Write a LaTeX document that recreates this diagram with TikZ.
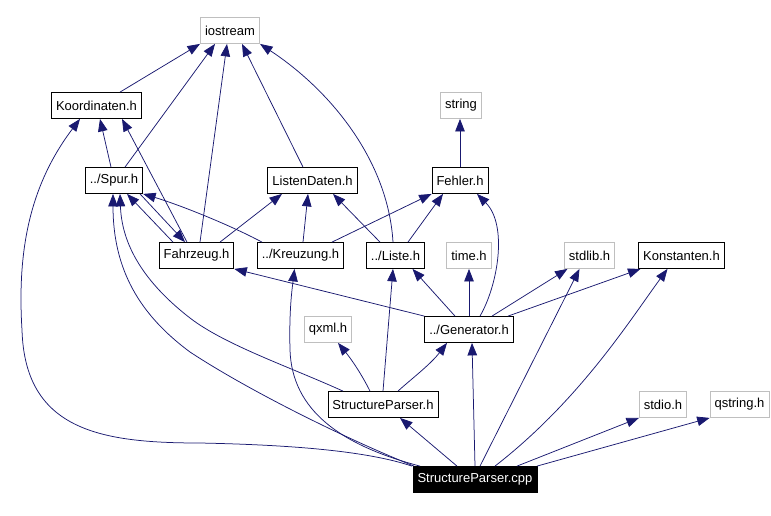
\documentclass[tikz,border=0pt]{standalone}
\usepackage{fontspec}
\setmainfont{Liberation Sans}
\usetikzlibrary{arrows.meta}
\definecolor{edgeblue}{HTML}{191970}
\definecolor{extgray}{HTML}{BFBFBF}

\begin{document}
\begin{tikzpicture}[x=1pt,y=-1pt,
        file/.style={draw=black,line width=0.8pt,inner xsep=4.5pt,inner ysep=0pt,minimum height=26pt,font=\fontsize{13}{15}\selectfont},
        sysfile/.style={file,draw=extgray},
        mainfile/.style={file,fill=black,text=white},
        dep/.style={draw=edgeblue,line width=0.75pt,-{Triangle[length=12.5pt,width=9.5pt]}}]
        \useasboundingbox (0,0) rectangle (771,515);
        % Files
        \node[sysfile] (iostream) at (230,30.5) {iostream};
        \node[file] (koord) at (96.5,105.5) {Koordinaten.h};
        \node[sysfile] (string) at (461,105.5) {string};
        \node[file] (spur) at (114,180.5) {../Spur.h};
        \node[file] (listendaten) at (312.5,180.5) {ListenDaten.h};
        \node[file] (fehler) at (460,180.5) {Fehler.h};
        \node[file] (fahrzeug) at (196.5,255.5) {Fahrzeug.h};
        \node[file] (kreuzung) at (300.5,255.5) {../Kreuzung.h};
        \node[file] (liste) at (395.5,255.5) {../Liste.h};
        \node[sysfile] (timeh) at (469,255.5) {time.h};
        \node[sysfile] (stdlib) at (589.5,255.5) {stdlib.h};
        \node[file] (konst) at (681.5,255.5) {Konstanten.h};
        \node[sysfile] (qxml) at (328,329.5) {qxml.h};
        \node[file] (generator) at (469,329.5) {../Generator.h};
        \node[file] (sph) at (383,404.5) {StructureParser.h};
        \node[sysfile] (stdio) at (663,404.5) {stdio.h};
        \node[sysfile] (qstring) at (739.5,404.5) {qstring.h};
        \node[mainfile] (spcpp) at (475,479.5) {StructureParser.cpp};

        % Includes of iostream
        \draw[dep] ([xshift=23.5]koord.north) -- ([xshift=-30]iostream.south);
        \draw[dep] ([xshift=11]spur.north) -- ([xshift=-15]iostream.south);
        \draw[dep] ([xshift=3.5]fahrzeug.north) -- ([xshift=-3]iostream.south);
        \draw[dep] ([xshift=-9.5]listendaten.north) -- ([xshift=12]iostream.south);
        \draw[dep] ([xshift=-2.5]liste.north) .. controls (388,160) and (330,90) .. ([xshift=30]iostream.south);

        % Koordinaten.h
        \draw[dep] ([xshift=-3]spur.north) -- ([xshift=3.5]koord.south);
        \draw[dep] ([xshift=-9.5]fahrzeug.north) -- ([xshift=25.5]koord.south);
        \draw[dep] ([xshift=-63]spcpp.north) .. controls (370,452) and (300,445) .. (200,443)
                .. controls (100,443) and (25,430) .. (22,330)
                .. controls (17,250) and (30,185) .. ([xshift=-16.5]koord.south);

        % ../Spur.h and Fahrzeug.h
        \draw[dep] ([xshift=-61]spcpp.north) .. controls (330,432) and (240,385) .. (190,352)
                .. controls (140,315) and (113,270) .. ([xshift=-1]spur.south);
        \draw[dep] ([xshift=-40]sph.north) .. controls (290,367) and (225,345) .. (190,318)
                .. controls (150,287) and (122,250) .. ([xshift=6]spur.south);
        \draw[dep] ([xshift=-23.5]fahrzeug.north) -- ([xshift=13]spur.south);
        \draw[dep] ([xshift=-38.5]kreuzung.north) .. controls (230,225) and (180,205) .. (spur.south east);
        \draw[dep] ([xshift=26]spur.south) -- ([xshift=-11.5]fahrzeug.north);
        \draw[dep] (generator.north west) -- (fahrzeug.south east);

        % ListenDaten.h and ../Kreuzung.h
        \draw[dep] ([xshift=23.5]fahrzeug.north) -- ([xshift=-30.5]listendaten.south);
        \draw[dep] ([xshift=2.5]kreuzung.north) -- ([xshift=-4.5]listendaten.south);
        \draw[dep] ([xshift=-15.5]liste.north) -- ([xshift=20.5]listendaten.south);
        \draw[dep] ([xshift=-55]spcpp.north) .. controls (340,445) and (292,410) .. (290,350)
                .. controls (289,310) and (292,290) .. ([xshift=-6]kreuzung.south);

        % Fehler.h and string
        \draw[dep] ([xshift=31.5]kreuzung.north) -- (fehler.south west);
        \draw[dep] ([xshift=12.5]liste.north) -- ([xshift=-17]fehler.south);
        \draw[dep] ([xshift=11]generator.north) .. controls (498,285) and (508,225) .. ([xshift=17]fehler.south);
        \draw[dep] (fehler.north) -- (fehler.north |- string.south);

        % ../Liste.h, qxml.h
        \draw[dep] ([xshift=-14]generator.north) -- ([xshift=17]liste.south);
        \draw[dep] (sph.north) -- ([xshift=-2.5]liste.south);
        \draw[dep] ([xshift=-13]sph.north) .. controls (362,375) and (352,360) .. ([xshift=10]qxml.south);

        % ../Generator.h
        \draw[dep] ([xshift=15]sph.north) .. controls (410,380) and (430,365) .. ([xshift=-22]generator.south);
        \draw[dep] (spcpp.north) -- ([xshift=3]generator.south);
        \draw[dep] (generator.north) -- (timeh.south);
        \draw[dep] ([xshift=23]generator.north) -- ([xshift=-22]stdlib.south);
        \draw[dep] ([xshift=39]generator.north) -- ([xshift=-41]konst.south);

        % StructureParser.cpp
        \draw[dep] ([xshift=-18]spcpp.north) -- ([xshift=17]sph.south);
        \draw[dep] ([xshift=5]spcpp.north) -- ([xshift=-10]stdlib.south);
        \draw[dep] ([xshift=20]spcpp.north) .. controls (580,400) and (630,320) .. ([xshift=-14]konst.south);
        \draw[dep] ([xshift=42]spcpp.north) -- (stdio.south west);
        \draw[dep] ([xshift=62]spcpp.north) -- (qstring.south west);
    \end{tikzpicture}
\end{document}
